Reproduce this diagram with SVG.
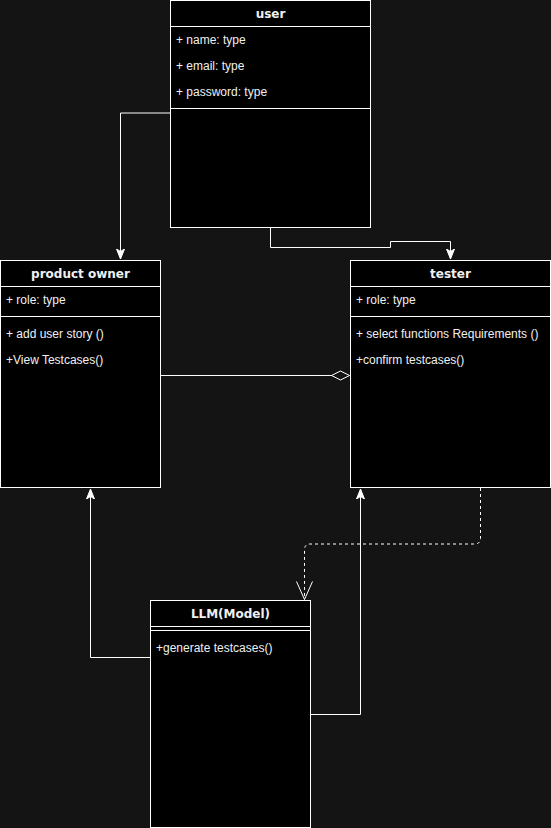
<svg xmlns="http://www.w3.org/2000/svg" width="551" height="828" viewBox="0 0 551 828">
  <style>
    .box { fill: #000; stroke: #fff; stroke-width: 1; }
    .sep { stroke: #fff; stroke-width: 1; fill: none; }
    .title { font-family: "DejaVu Sans", "Liberation Sans", sans-serif; font-weight: bold; font-size: 12px; fill: #f0f0f0; text-anchor: middle; }
    .item { font-family: "Liberation Sans", Arial, sans-serif; font-size: 12px; fill: #f0f0f0; }
    .edge { stroke: #fff; stroke-width: 1; fill: none; }
    .dash { stroke: #fff; stroke-width: 1; fill: none; stroke-dasharray: 3 3; }
  </style>
  <defs>
    <marker id="arrow" viewBox="0 0 10 10" refX="10" refY="5" markerWidth="10" markerHeight="10" markerUnits="userSpaceOnUse" orient="auto">
      <path d="M0,1 L10,5 L0,9 L2.5,5 Z" fill="#fff" stroke="#fff"/>
    </marker>
    <marker id="open" viewBox="0 0 20 20" refX="19" refY="10" markerWidth="20" markerHeight="20" markerUnits="userSpaceOnUse" orient="auto">
      <path d="M1,2 L19,10 L1,18" fill="none" stroke="#fff"/>
    </marker>
    <marker id="diamond" viewBox="0 0 20 12" refX="19" refY="6" markerWidth="20" markerHeight="12" markerUnits="userSpaceOnUse" orient="auto">
      <path d="M1,6 L10,1.5 L19,6 L10,10.5 Z" fill="#141414" stroke="#fff"/>
    </marker>
  </defs>
  <rect width="551" height="828" fill="#141414"/>

  <g id="connectors">
    <path class="edge" d="M170,113 H120.5 V259" marker-end="url(#arrow)"/>
    <path class="edge" d="M270.5,227 V247.5 H390.5 V241.5 H450.5 V259" marker-end="url(#arrow)"/>
    <path class="edge" d="M160.5,375.5 H349.5" marker-end="url(#diamond)"/>
    <path class="dash" d="M480.5,488 V538 Q480.5,544 474.5,544 H310 Q304.5,544 304.5,550 V599.5" marker-end="url(#open)"/>
    <path class="edge" d="M150,657.5 H90.5 V489" marker-end="url(#arrow)"/>
    <path class="edge" d="M310,714.5 H360.5 V489" marker-end="url(#arrow)"/>
  </g>

  <g id="user">
    <rect class="box" x="170.5" y="0.5" width="200" height="227"/>
    <line class="sep" x1="170.5" y1="26.5" x2="370.5" y2="26.5"/>
    <text class="title" x="270.5" y="18">user</text>
    <text class="item" x="176" y="44">+ name: type</text>
    <text class="item" x="176" y="70">+ email: type</text>
    <text class="item" x="176" y="96">+ password: type</text>
    <line class="sep" x1="170.5" y1="108.5" x2="370.5" y2="108.5"/>
  </g>

  <g id="product-owner">
    <rect class="box" x="0.5" y="260.5" width="160" height="227"/>
    <line class="sep" x1="0.5" y1="286.5" x2="160.5" y2="286.5"/>
    <text class="title" x="80.5" y="278">product owner</text>
    <text class="item" x="6" y="304">+ role: type</text>
    <line class="sep" x1="0.5" y1="316.5" x2="160.5" y2="316.5"/>
    <text class="item" x="6" y="338">+ add user story ()</text>
    <text class="item" x="6" y="364">+View Testcases()</text>
  </g>

  <g id="tester">
    <rect class="box" x="350.5" y="260.5" width="200" height="227"/>
    <line class="sep" x1="350.5" y1="286.5" x2="550.5" y2="286.5"/>
    <text class="title" x="450.5" y="278">tester</text>
    <text class="item" x="356" y="304">+ role: type</text>
    <line class="sep" x1="350.5" y1="316.5" x2="550.5" y2="316.5"/>
    <text class="item" x="356" y="338">+ select functions Requirements ()</text>
    <text class="item" x="356" y="364">+confirm testcases()</text>
  </g>

  <g id="llm-model">
    <rect class="box" x="150.5" y="600.5" width="160" height="227"/>
    <line class="sep" x1="150.5" y1="626.5" x2="310.5" y2="626.5"/>
    <text class="title" x="230.5" y="618">LLM(Model)</text>
    <line class="sep" x1="150.5" y1="630.5" x2="310.5" y2="630.5"/>
    <text class="item" x="156" y="652">+generate testcases()</text>
  </g>
</svg>
